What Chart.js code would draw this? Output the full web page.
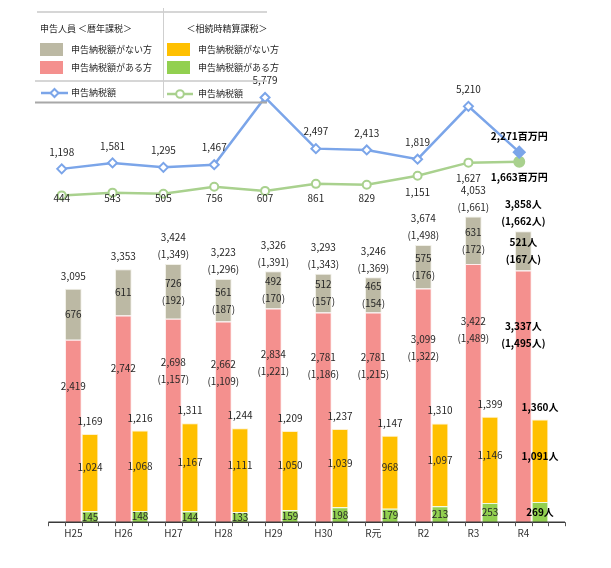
<!DOCTYPE html>
<html lang="ja">
<head>
<meta charset="utf-8">
<script src="https://cdn.jsdelivr.net/npm/chart.js@4.4.1/dist/chart.umd.min.js"></script>
<style>
    html, body { margin: 0; padding: 0; background: #fff; }
</style>
</head>
<body>
<canvas id="grafica-shinkoku" width="611" height="568"></canvas>
<script>
    // 年分
    const nendo = ['H25', 'H26', 'H27', 'H28', 'H29', 'H30', 'R元', 'R2', 'R3', 'R4'];

    // 暦年課税 申告人員（千人）
    const rekiAru = [2419, 2742, 2698, 2662, 2834, 2781, 2781, 3099, 3422, 3337];
    const rekiAruKakko = [null, null, 1157, 1109, 1221, 1186, 1215, 1322, 1489, 1495];
    const rekiNai = [676, 611, 726, 561, 492, 512, 465, 575, 631, 521];
    const rekiNaiKakko = [null, null, 192, 187, 170, 157, 154, 176, 172, 167];

    // 相続時精算課税 申告人員（千人）
    const seisanNai = [1024, 1068, 1167, 1111, 1050, 1039, 968, 1097, 1146, 1091];
    const seisanAru = [145, 148, 144, 133, 159, 198, 179, 213, 253, 269];

    // 申告納税額（百万円）
    const zeigakuReki = [1198, 1581, 1295, 1467, 5779, 2497, 2413, 1819, 5210, 2271];
    const zeigakuSeisan = [444, 543, 505, 756, 607, 861, 829, 1151, 1627, 1663];

    const fam = "'Noto Sans CJK JP', 'Noto Sans', sans-serif";
    const colorTexto = '#262626';
    const azul = '#7ba5e9';
    const verdeLinea = '#a9d18e';
    const ult = nendo.length - 1;

    // El gráfico de líneas de Excel tiene su propio eje X (algo más ancho y desplazado).
    // Se traduce su índice al eje de categorías de las barras.
    const lineaMin = -0.099;
    const lineaMax = 9.736;
    const aEjeCategoria = i => -0.5 + nendo.length * (i - lineaMin) / (lineaMax - lineaMin);

    const fmt = (v, i) => v.toLocaleString('en-US') + (i === ult ? '人' : '');
    const paren = (v, i) => '(' + fmt(v, i) + ')';

    Chart.defaults.font.family = fam;
    Chart.defaults.color = colorTexto;

    // Eje X dibujado a mano (como en Excel, con marcas cada tercio)
    const ejeX = {
        id: 'ejeX',
        afterDatasetsDraw(chart) {
            const {ctx, chartArea} = chart;
            const cw = (chartArea.right - chartArea.left) / nendo.length;
            const x0 = chartArea.left - cw / 6;
            const x1 = chartArea.right + cw / 6;
            const y = chartArea.bottom;
            ctx.save();
            ctx.strokeStyle = '#3a3a3a';
            ctx.lineWidth = 1.5;
            ctx.beginPath();
            ctx.moveTo(x0, y);
            ctx.lineTo(x1, y);
            ctx.stroke();
            ctx.lineWidth = 1;
            ctx.strokeStyle = '#555';
            for (let n = 0; n <= nendo.length * 3 + 1; n++) {
                const x = Math.round(x0 + n * cw / 3) + 0.5;
                ctx.beginPath();
                ctx.moveTo(x, y);
                ctx.lineTo(x, y + 4);
                ctx.stroke();
            }
            ctx.restore();
        }
    };

    // Etiquetas de datos
    const etiquetas = {
        id: 'etiquetas',
        afterDatasetsDraw(chart) {
            const ctx = chart.ctx;
            const yP = chart.scales.yPersonas;
            const yV = chart.scales.yVerde;
            const mRosa = chart.getDatasetMeta(0);
            const mGris = chart.getDatasetMeta(1);
            const mVerde = chart.getDatasetMeta(2);
            const mAmarillo = chart.getDatasetMeta(3);
            const mAzul = chart.getDatasetMeta(4);
            const mLineaVerde = chart.getDatasetMeta(5);

            ctx.save();
            ctx.textAlign = 'center';
            ctx.textBaseline = 'middle';
            ctx.fillStyle = colorTexto;

            function bloque(x, yc, lineas, i) {
                ctx.font = (i === ult ? 'bold ' : '') + '10px ' + fam;
                ctx.fillStyle = i === ult ? '#000' : colorTexto;
                const h = 17;
                const y0 = yc - (lineas.length - 1) * h / 2;
                lineas.forEach((t, j) => ctx.fillText(t, x, y0 + j * h));
            }

            nendo.forEach((n, i) => {
                const rosa = mRosa.data[i];
                const gris = mGris.data[i];
                const verde = mVerde.data[i];
                const amarillo = mAmarillo.data[i];

                // total 暦年課税
                const total = rekiAru[i] + rekiNai[i];
                const lTotal = [fmt(total, i)];
                if (rekiAruKakko[i] !== null) lTotal.push(paren(rekiAruKakko[i] + rekiNaiKakko[i], i));
                const ultimaLinea = gris.y - (lTotal.length === 1 ? 13 : 9.5);
                bloque(gris.x, ultimaLinea - (lTotal.length - 1) * 17 / 2, lTotal, i);

                // 申告納税額がない方
                const lNai = [fmt(rekiNai[i], i)];
                if (rekiNaiKakko[i] !== null) lNai.push(paren(rekiNaiKakko[i], i));
                bloque(gris.x, (gris.y + gris.base) / 2, lNai, i);

                // 申告納税額がある方
                const lAru = [fmt(rekiAru[i], i)];
                if (rekiAruKakko[i] !== null) lAru.push(paren(rekiAruKakko[i], i));
                bloque(rosa.x, yP.getPixelForValue(rekiAru[i] * 0.745), lAru, i);

                // 相続時精算課税
                bloque(amarillo.x, amarillo.y - 12.7, [fmt(seisanNai[i] + seisanAru[i], i)], i);
                bloque(amarillo.x, (amarillo.y + amarillo.base) / 2 - 5, [fmt(seisanNai[i], i)], i);
                bloque(verde.x, (verde.y + verde.base) / 2, [fmt(seisanAru[i], i)], i);

                // 申告納税額（折れ線）
                const pa = mAzul.data[i];
                const pv = mLineaVerde.data[i];
                if (i === ult) {
                    bloque(pa.x, pa.y - 16, [zeigakuReki[i].toLocaleString('en-US') + '百万円'], i);
                    bloque(pv.x, pv.y + 16, [zeigakuSeisan[i].toLocaleString('en-US') + '百万円'], i);
                } else {
                    bloque(pa.x, pa.y - 17, [zeigakuReki[i].toLocaleString('en-US')], i);
                    bloque(pv.x, Math.min(pv.y + 16, yV.getPixelForValue(350)), [zeigakuSeisan[i].toLocaleString('en-US')], i);
                }
            });
            ctx.restore();
        }
    };

    // Leyenda en recuadro
    const leyenda = {
        id: 'leyenda',
        afterDraw(chart) {
            const ctx = chart.ctx;
            const ds = chart.data.datasets;
            function linea(x1, y1, x2, y2) {
                ctx.beginPath();
                ctx.moveTo(x1, y1);
                ctx.lineTo(x2, y2);
                ctx.stroke();
            }
            ctx.save();
            ctx.strokeStyle = '#c8c8c8';
            ctx.lineWidth = 1.5;
            linea(37, 12, 267, 12);
            linea(35, 81, 267, 81);
            ctx.lineWidth = 1;
            ctx.strokeStyle = '#cfcfcf';
            linea(163.5, 8, 163.5, 98);
            ctx.strokeStyle = '#a8a8a8';
            ctx.lineWidth = 2;
            linea(35, 102.5, 267, 102.5);

            ctx.font = '9px ' + fam;
            ctx.fillStyle = colorTexto;
            ctx.textBaseline = 'middle';
            ctx.textAlign = 'left';
            ctx.fillText('申告人員 ＜暦年課税＞', 40, 29);
            ctx.textAlign = 'center';
            ctx.fillText('＜相続時精算課税＞', 227, 29);
            ctx.textAlign = 'left';

            // cuadros de color
            const cuadros = [
                [ds[1], 40, 43], [ds[0], 40, 61],
                [ds[3], 167, 43], [ds[2], 167, 61]
            ];
            cuadros.forEach(([d, x, y]) => {
                ctx.fillStyle = d.backgroundColor;
                ctx.fillRect(x, y, 23, 13);
                ctx.fillStyle = colorTexto;
                ctx.fillText(d.label, x + 31, y + 7);
            });

            // líneas
            ctx.lineWidth = 2.5;
            ctx.strokeStyle = azul;
            linea(41, 93, 68, 93);
            ctx.lineWidth = 2;
            ctx.fillStyle = '#fff';
            ctx.beginPath();
            ctx.moveTo(54.5, 89); ctx.lineTo(58.5, 93); ctx.lineTo(54.5, 97); ctx.lineTo(50.5, 93);
            ctx.closePath();
            ctx.fill(); ctx.stroke();
            ctx.fillStyle = colorTexto;
            ctx.fillText(ds[4].label, 71, 93);

            ctx.lineWidth = 2.5;
            ctx.strokeStyle = verdeLinea;
            linea(167, 94, 193, 94);
            ctx.lineWidth = 2;
            ctx.fillStyle = '#fff';
            ctx.beginPath();
            ctx.arc(180, 94, 3.8, 0, Math.PI * 2);
            ctx.fill(); ctx.stroke();
            ctx.fillStyle = colorTexto;
            ctx.fillText(ds[5].label, 198, 94);
            ctx.restore();
        }
    };

    const ctx = document.getElementById('grafica-shinkoku');

    const barras = {
        borderWidth: 1,
        yAxisID: 'yPersonas'
    };

    const data = {
        labels: nendo,
        datasets: [
            Object.assign({
                label: '申告納税額がある方',
                data: rekiAru,
                backgroundColor: '#f4908e',
                borderColor: 'rgba(255,235,235,0.9)',
                stack: 'reki'
            }, barras),
            Object.assign({
                label: '申告納税額がない方',
                data: rekiNai,
                backgroundColor: '#bcb9a4',
                borderColor: 'rgba(240,238,228,0.9)',
                stack: 'reki'
            }, barras),
            Object.assign({
                label: '申告納税額がある方',
                data: seisanAru,
                backgroundColor: '#92d050',
                borderColor: 'rgba(235,250,220,0.9)',
                stack: 'seisan'
            }, barras),
            Object.assign({
                label: '申告納税額がない方',
                data: seisanNai,
                backgroundColor: '#ffc000',
                borderColor: 'rgba(255,240,200,0.9)',
                stack: 'seisan'
            }, barras),
            {
                type: 'line',
                label: '申告納税額',
                parsing: false,
                data: zeigakuReki.map((v, i) => ({x: aEjeCategoria(i), y: v})),
                yAxisID: 'yAzul',
                borderColor: azul,
                borderWidth: 2.5,
                tension: 0,
                pointStyle: 'rectRot',
                pointRadius: zeigakuReki.map((v, i) => i === ult ? 5.5 : 4.5),
                pointBorderWidth: 2,
                pointBorderColor: azul,
                pointBackgroundColor: zeigakuReki.map((v, i) => i === ult ? azul : '#fff')
            },
            {
                type: 'line',
                label: '申告納税額',
                parsing: false,
                data: zeigakuSeisan.map((v, i) => ({x: aEjeCategoria(i), y: v})),
                yAxisID: 'yVerde',
                borderColor: verdeLinea,
                borderWidth: 2.5,
                tension: 0,
                pointStyle: 'circle',
                pointRadius: zeigakuSeisan.map((v, i) => i === ult ? 5 : 4),
                pointBorderWidth: 2,
                pointBorderColor: verdeLinea,
                pointBackgroundColor: zeigakuSeisan.map((v, i) => i === ult ? verdeLinea : '#fff')
            }
        ]
    };

    const config = {
        type: 'bar',
        data: data,
        options: {
            responsive: false,
            animation: false,
            devicePixelRatio: 1,
            datasets: {
                bar: {
                    categoryPercentage: 2 / 3,
                    barPercentage: 1
                }
            },
            layout: {
                padding: {left: 56.67, right: 54.33, top: 20, bottom: 23.8}
            },
            scales: {
                x: {
                    type: 'category',
                    stacked: true,
                    offset: true,
                    grid: {display: false, drawTicks: false},
                    border: {display: false},
                    ticks: {
                        labelOffset: -8.33,
                        padding: 5,
                        color: '#333',
                        font: {size: 10}
                    }
                },
                yPersonas: {
                    stacked: true,
                    display: false,
                    min: 0,
                    max: 6658
                },
                yAzul: {
                    display: false,
                    min: -21478,
                    max: 10752
                },
                yVerde: {
                    display: false,
                    min: -11358,
                    max: 6778
                }
            },
            plugins: {
                legend: {display: false},
                tooltip: {enabled: false},
                title: {display: false}
            }
        },
        plugins: [ejeX, etiquetas, leyenda]
    };

    new Chart(ctx, config);
</script>
</body>
</html>
